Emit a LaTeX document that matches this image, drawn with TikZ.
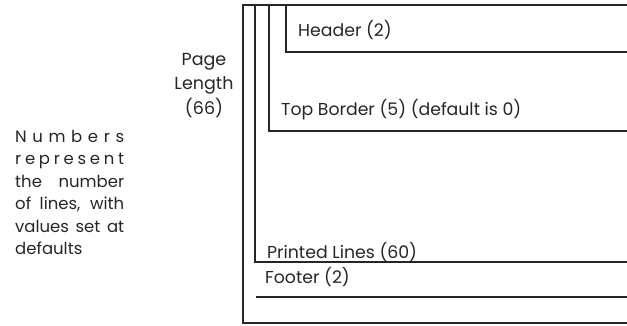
\documentclass[tikz,border=0pt]{standalone}
\usepackage{fontspec}
\setmainfont{Poppins}
\begin{document}
\begin{tikzpicture}[x=1pt,y=-1pt,
  frame/.style={line width=1.4pt, black!85, line join=miter},
  lbl/.style={inner sep=0pt, anchor=base west, font=\fontsize{17.3}{20}\selectfont, text=black!85},
  side/.style={inner sep=0pt, anchor=base west, font=\fontsize{16.5}{20}\selectfont, text=black!85},
  plen/.style={inner sep=0pt, anchor=base, font=\fontsize{17.5}{20}\selectfont, text=black!85}]
\useasboundingbox (0,0) rectangle (627,325);
% corner coordinates
\coordinate (pageTL) at (243,5);
\coordinate (pageBL) at (243,323);
\coordinate (pageTR) at (627,5);
\coordinate (pageBR) at (627,323);
\coordinate (prTL) at (255,5);
\coordinate (prBL) at (255,262);
\coordinate (prBR) at (627,262);
\coordinate (tbTL) at (269,5);
\coordinate (tbBL) at (269,131);
\coordinate (tbBR) at (627,131);
\coordinate (hdTL) at (286,5);
\coordinate (hdBL) at (286,52);
\coordinate (hdBR) at (627,52);
\coordinate (ftBL) at (256,297);
\coordinate (ftBR) at (627,297);
% frames
\draw[frame] (pageTR) -- (pageTL) -- (pageBL) -- (pageBR);
\draw[frame] (prTL) -- (prBL) -- (prBR);
\draw[frame] (tbTL) -- (tbBL) -- (tbBR);
\draw[frame] (hdTL) -- (hdBL) -- (hdBR);
\draw[frame] (ftBL) -- (ftBR);
% labels
\node[lbl] (header) at (298,36) {Header (2)};
\node[lbl] (topborder) at (281,115) {Top Border (5) (default is 0)};
\node[lbl] (printed) at (267,258) {Printed Lines (60)};
\node[lbl] (footer) at (265,283) {Footer (2)};
\node[plen] (pl1) at (204,65) {Page};
\node[plen] (pl2) at (204,89.5) {Length};
\node[plen] (pl3) at (204,114) {(66)};
\node[side] (s1) at (15,142) {\makebox[109pt][s]{N\hfill u\hfill m\hfill b\hfill e\hfill r\hfill s}};
\node[side] (s2) at (15,164.5) {\makebox[109pt][s]{r\hfill e\hfill p\hfill r\hfill e\hfill s\hfill e\hfill n\hfill t}};
\node[side] (s3) at (15,187) {\makebox[109pt][s]{the number}};
\node[side] (s4) at (15,209.5) {\makebox[109pt][s]{of lines, with}};
\node[side] (s5) at (15,232) {\makebox[109pt][s]{values set at}};
\node[side] (s6) at (15,254.5) {defaults};
\end{tikzpicture}
\end{document}
